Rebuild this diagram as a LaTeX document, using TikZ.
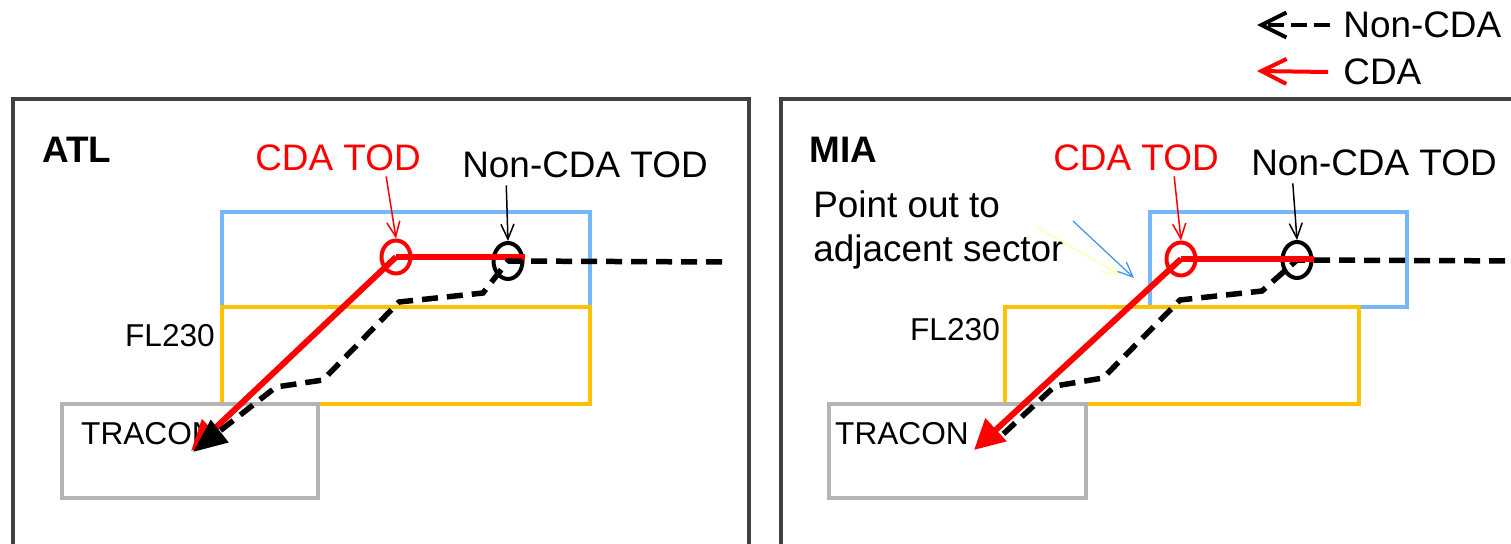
\documentclass[tikz,border=0pt]{standalone}
\usepackage{fontspec}
\setmainfont{Liberation Sans}
\usetikzlibrary{arrows.meta,shapes.geometric,calc}
\definecolor{framegray}{RGB}{64,64,64}
\definecolor{upperblue}{RGB}{117,184,250}
\definecolor{florange}{RGB}{255,192,0}
\definecolor{tracongray}{RGB}{180,180,180}
\definecolor{paleyellow}{RGB}{255,255,185}
\definecolor{pointblue}{RGB}{60,150,240}

\begin{document}
\begin{tikzpicture}[x=0.02cm,y=-0.02cm,
  panel/.style={draw=framegray,line width=0.08cm},
  sector/.style={line width=0.075cm},
  big/.style={font=\fontsize{21}{25}\selectfont,inner sep=0pt},
  small/.style={font=\fontsize{18}{21}\selectfont,inner sep=0pt},
  title/.style={font=\fontsize{21}{25}\selectfont\bfseries,inner sep=0pt},
  ring/.style={draw=#1,ellipse,line width=0.08cm,minimum width=0.58cm,minimum height=0.66cm,inner sep=0pt},
  tag/.style={-{Straight Barb[length=0.3cm,width=0.26cm]},line width=0.03cm},
  cda/.style={red,line width=0.12cm,-{Triangle[length=0.6cm,width=0.6cm]}},
  cdalevel/.style={red,line width=0.12cm},
  noncda/.style={black,line width=0.11cm,dash pattern=on 0.32cm off 0.18cm},
  key/.style={line width=0.08cm,-{Straight Barb[length=0.5cm,width=0.5cm]}},
]
\useasboundingbox (0,0) rectangle (1511,544);
\clip (0,0) rectangle (1511,544);

% legend
\node[big,anchor=west] (keyNon) at (1343,25) {Non-CDA};
\node[big,anchor=west] (keyCda) at (1343,72) {CDA};
\coordinate (keyNonTip) at (1257,25);
\coordinate (keyCdaTip) at (1257,71);
\draw[key,dash pattern=on 0.32cm off 0.14cm] ([xshift=-0.26cm]keyNon.west) -- (keyNonTip);
\draw[key,red] ([xshift=-0.3cm]keyCda.west) -- (keyCdaTip);

% panel frames
\draw[panel] (13,99) rectangle (749,570);
\draw[panel] (781,99) rectangle (1540,570);

%% ATL
\draw[sector,draw=upperblue] (222,212) rectangle (590,307);
\draw[sector,draw=florange] (222,307) rectangle (590,404);
\draw[sector,draw=tracongray] (62,404) rectangle (318,498);

\node[title,anchor=west] (atl) at (42,150) {ATL};
\node[big,red] (tagCdaA) at (338,158) {CDA TOD};
\node[big] (tagNonA) at (585,165) {Non-CDA TOD};
\node[small] (flA) at (170,336) {FL230};
\node[small] (traconA) at (148,434) {TRACON};

\node[ring=red] (ringCdaA) at (396,257) {};
\node[ring=black,minimum height=0.72cm] (ringNonA) at (508,261) {};

\coordinate (cdaTipA) at (191,451);
\draw[cda] (ringCdaA.center) -- (cdaTipA);
\draw[cdalevel] (ringCdaA.center) -- (ringCdaA.center -| ringNonA.east);

\coordinate (nonFarA) at (722,262);
\coordinate (nonTipA) at (193,452);
\draw[noncda,-{Triangle[length=0.68cm,width=0.55cm]}] (nonFarA) -- (ringNonA.center)
  -- (483,293) -- (399,302) -- (323,380) -- (276,387) -- (nonTipA);

\draw[tag,red] ($(tagCdaA.south west)!0.79!(tagCdaA.south east)+(0,5)$) -- (ringCdaA.north);
\draw[tag] ($(tagNonA.south west)!0.18!(tagNonA.south east)+(0,7)$) -- (ringNonA.north);

%% MIA
\draw[sector,draw=upperblue] (1150,212) rectangle (1407,307);
\draw[sector,draw=florange] (1005,307) rectangle (1359,404);
\draw[sector,draw=tracongray] (829,404) rectangle (1086,498);

\node[title,anchor=west] (mia) at (809,150) {MIA};
\node[big,red] (tagCdaM) at (1136,158) {CDA TOD};
\node[big] (tagNonM) at (1374,163) {Non-CDA TOD};
\node[small] (flM) at (955,330) {FL230};
\node[small] (traconM) at (902,434) {TRACON};
\node[big,align=left,anchor=north west] (pointOut) at (813,190) {Point out to\\adjacent sector};

\node[ring=red] (ringCdaM) at (1181,259) {};
\node[ring=black,minimum height=0.72cm] (ringNonM) at (1297,260) {};

\coordinate (nonFarM) at (1530,261);
\coordinate (nonEndM) at (1000,437);
\draw[noncda] (nonFarM) -- (ringNonM.center)
  -- (1262,291) -- (1180,300) -- (1103,378) -- (1055,386) -- (nonEndM);

\coordinate (cdaTipM) at (974,450);
\draw[cda] (ringCdaM.center) -- (cdaTipM);
\draw[cdalevel] (ringCdaM.center) -- (ringCdaM.center -| ringNonM.east);

\draw[tag,red] ($(tagCdaM.south west)!0.73!(tagCdaM.south east)+(0,5)$) -- (ringCdaM.north);
\draw[tag] ($(tagNonM.south west)!0.17!(tagNonM.south east)+(0,7)$) -- (ringNonM.north);

% point-out hint towards the upper sector
\coordinate (hintYellow) at (1037,227);
\coordinate (hintBlue) at (1073,221);
\draw[tag,paleyellow] (hintYellow) -- (1120,275);
\draw[tag,pointblue,line width=0.025cm] (hintBlue) -- (1134,278);
\end{tikzpicture}
\end{document}
